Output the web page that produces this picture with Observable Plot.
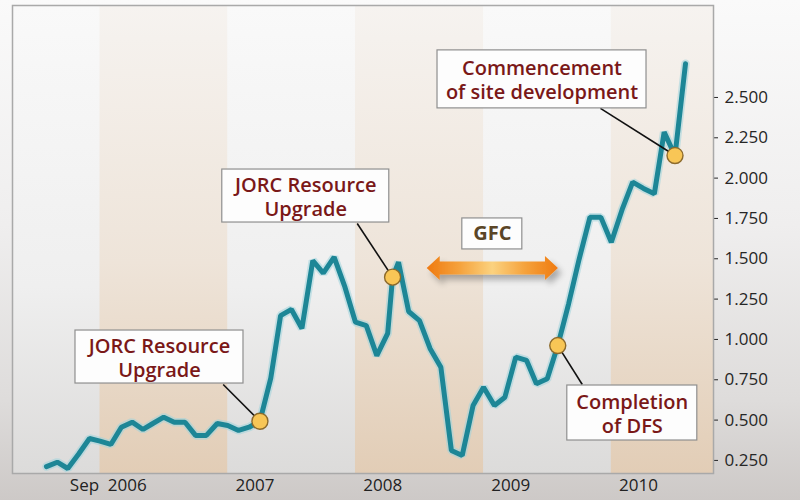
<!DOCTYPE html>
<html><head><meta charset="utf-8">
<script src="https://cdn.jsdelivr.net/npm/d3@7"></script>
<script src="https://cdn.jsdelivr.net/npm/@observablehq/plot@0.6"></script>
<style>
html,body{margin:0;padding:0;}
body{width:800px;height:500px;overflow:hidden;background:linear-gradient(to bottom,#fafafa 0%,#efeeee 45%,#dedcdb 80%,#cdc9c7 100%);font-family:"Open Sans",sans-serif;}
#chart svg{display:block;}
</style></head>
<body><div id="chart"></div>
<script>
// ---- data ----
const firstMonth = "2005-05-01";
const lastMonth = "2010-05-01";
const monthlyValues = [
  0.212, 0.239, 0.200, 0.290, 0.386, 0.370, 0.349, 0.456, 0.487, 0.442,
  0.479, 0.518, 0.487, 0.487, 0.405, 0.405, 0.479, 0.467, 0.436, 0.456,
  0.493, 0.760, 1.148, 1.186, 1.068, 1.489, 1.411, 1.510, 1.324, 1.107,
  1.086, 0.900, 1.037, 1.479, 1.173, 1.117, 0.944, 0.828, 0.312, 0.281,
  0.591, 0.704, 0.591, 0.642, 0.890, 0.870, 0.725, 0.756, 0.962, 1.221,
  1.497, 1.758, 1.758, 1.603, 1.806, 1.975, 1.936, 1.903, 2.285, 2.140,
  2.709
];
const yTicks = [0.25, 0.5, 0.75, 1.0, 1.25, 1.5, 1.75, 2.0, 2.25, 2.5];
const xTickDates = ["2005-09-01", "2006-01-01", "2007-01-01", "2008-01-01", "2009-01-01", "2010-01-01"];
const xTickLabels = ["Sep", "2006", "2007", "2008", "2009", "2010"];
const xDomain = ["2005-01-24", "2010-07-20"];
const yDomain = [0.169, 3.07];
const bandStarts = ["2005-10-01", "2007-10-01", "2009-10-01"];
const bandEnds = ["2006-10-01", "2008-10-01", "2010-07-20"];

// events (dots on the line)
const eventDates = ["2007-01-01", "2008-01-15", "2009-05-01", "2010-04-01"];
const eventValues = [0.493, 1.386, 0.962, 2.140];
const eventLabels = ["JORC Resource\nUpgrade", "JORC Resource\nUpgrade", "Completion\nof DFS", "Commencement\nof site development"];
// callout anchors (box centres) and leader-line ends, in data units
const calloutDates = ["2006-03-20", "2007-05-12", "2009-11-30", "2009-03-17"];
const calloutValues = [0.891, 1.889, 0.544, 2.612];
const leaderDates = ["2006-09-18", "2007-10-06", "2009-07-10", "2009-08-31"];
const leaderValues = [0.721, 1.719, 0.721, 2.432];
// GFC label and arrow
const gfcLabel = "GFC";
const gfcDate = "2008-10-26";
const gfcValue = 1.654;
const gfcArrowDates = ["2008-04-23", "2009-05-03"];
const gfcArrowValue = 1.440;

// ---- build tables ----
const P = d3.utcParse("%Y-%m-%d");
const months = d3.utcMonth.range(P(firstMonth), d3.utcMonth.offset(P(lastMonth), 1));
const series = months.map((d, i) => ({date: d, value: monthlyValues[i]}));
// the event on 2008-01-15 is an extra observation of the series
series.push({date: P(eventDates[1]), value: eventValues[1]});
series.sort((a, b) => a.date - b.date);

const bands = bandStarts.map((s, i) => ({start: P(s), end: P(bandEnds[i])}));
const events = eventDates.map((d, i) => ({date: P(d), value: eventValues[i], label: eventLabels[i]}));
const callouts = calloutDates.map((d, i) => ({date: P(d), value: calloutValues[i], label: eventLabels[i]}));
const leaders = leaderDates.map((d, i) => ({x1: P(d), y1: leaderValues[i], x2: events[i].date, y2: events[i].value}));
const xTicks = xTickDates.map((d, i) => ({date: P(d), label: xTickLabels[i]}));
const gfc = [{date: P(gfcDate), value: gfcValue, label: gfcLabel}];

const boxSizes = [[168, 53], [167, 53], [130, 55], [209, 58]];
const FONT = "'Open Sans', sans-serif";
const calloutRed = "#7a1818";

const boxMark = (row, w, h) => Plot.rect([row], {
  x1: "date", x2: "date", y1: "value", y2: "value",
  insetLeft: -w / 2, insetRight: -w / 2, insetTop: -h / 2, insetBottom: -h / 2,
  fill: "#fdfdfd", stroke: "#8f8f8f", strokeWidth: 1.2, ariaLabel: "callout-box"
});

const chart = Plot.plot({
  width: 800, height: 500,
  marginLeft: 12, marginRight: 87, marginTop: 5, marginBottom: 27,
  style: {background: "transparent", fontFamily: FONT, fontSize: "17px", color: "#262626", overflow: "visible"},
  x: {type: "utc", domain: xDomain.map(P), axis: null},
  y: {domain: yDomain, axis: "right", ticks: yTicks, tickFormat: ".3f", tickSize: 4, tickPadding: 7, label: null},
  marks: [
    Plot.frame({fill: "url(#plotBg)"}),
    Plot.rect(bands, {x1: "start", x2: "end", fill: "url(#tanBg)"}),
    Plot.frame({stroke: "#a9a9a9", strokeWidth: 1.5}),
    Plot.text(xTicks, {x: "date", text: "label", frameAnchor: "bottom", dy: 17, dx: -5, fontSize: 17, fill: "#222"}),
    Plot.line(series, {x: "date", y: "value", stroke: "#9fd3dc", strokeWidth: 8.5, strokeOpacity: 0.55, strokeLinejoin: "miter"}),
    Plot.line(series, {x: "date", y: "value", stroke: "#1d8696", strokeWidth: 5, strokeLinejoin: "miter"}),
    Plot.link(leaders, {x1: "x1", y1: "y1", x2: "x2", y2: "y2", stroke: "#111", strokeWidth: 1.6}),
    ...callouts.map((c, i) => boxMark(c, boxSizes[i][0], boxSizes[i][1])),
    boxMark(gfc[0], 60, 31),
    Plot.text(callouts, {x: "date", y: "value", text: "label", fontSize: 20, fontWeight: 600, fill: calloutRed, lineHeight: 1.22, lineAnchor: "middle", fontFamily: FONT}),
    Plot.text(gfc, {x: "date", y: "value", text: "label", fontSize: 20, fontWeight: 700, fill: "#5b4526", lineAnchor: "middle", fontFamily: FONT}),
    Plot.dot(events, {x: "date", y: "value", r: 8, fill: "#f8c656", stroke: "#8c6a2c", strokeWidth: 1.4})
  ]
});

const svg = d3.select(chart);
svg.insert("defs", ":first-child").html(`
  <linearGradient id="plotBg" x1="0" y1="0" x2="0" y2="1">
    <stop offset="0" stop-color="#f9f9f9"/><stop offset="0.6" stop-color="#efefef"/><stop offset="1" stop-color="#dcdbda"/>
  </linearGradient>
  <linearGradient id="tanBg" x1="0" y1="0" x2="0" y2="1">
    <stop offset="0" stop-color="#f6f3f0"/><stop offset="0.55" stop-color="#eee4d9"/><stop offset="1" stop-color="#e2cdb6"/>
  </linearGradient>
  <linearGradient id="arrowFill" x1="0" y1="0" x2="1" y2="0">
    <stop offset="0" stop-color="#ef7a10"/><stop offset="0.25" stop-color="#f5a23c"/>
    <stop offset="0.5" stop-color="#fbd27f"/><stop offset="0.75" stop-color="#f5a23c"/><stop offset="1" stop-color="#ef7a10"/>
  </linearGradient>
  <filter id="shadow" x="-30%" y="-40%" width="170%" height="200%">
    <feGaussianBlur in="SourceAlpha" stdDeviation="5"/>
    <feOffset dx="8" dy="8" result="o"/>
    <feComponentTransfer><feFuncA type="linear" slope="0.55"/></feComponentTransfer>
    <feMerge><feMergeNode/><feMergeNode in="SourceGraphic"/></feMerge>
  </filter>
  <filter id="shadowSoft" x="-20%" y="-60%" width="140%" height="260%">
    <feGaussianBlur in="SourceAlpha" stdDeviation="3"/>
    <feOffset dx="4" dy="5"/>
    <feComponentTransfer><feFuncA type="linear" slope="0.3"/></feComponentTransfer>
    <feMerge><feMergeNode/><feMergeNode in="SourceGraphic"/></feMerge>
  </filter>`);
svg.selectAll('g[aria-label="callout-box"]').attr("filter", "url(#shadow)");

// GFC double arrow, positioned through the plot's own scales
const sx = chart.scale("x"), sy = chart.scale("y");
const ax1 = sx.apply(P(gfcArrowDates[0])), ax2 = sx.apply(P(gfcArrowDates[1])), ay = sy.apply(gfcArrowValue);
const hl = 13, hh = 12, sh = 6.5;
const arrowPath = `M${ax1},${ay} L${ax1 + hl},${ay - hh} L${ax1 + hl},${ay - sh} L${ax2 - hl},${ay - sh} L${ax2 - hl},${ay - hh} L${ax2},${ay} L${ax2 - hl},${ay + hh} L${ax2 - hl},${ay + sh} L${ax1 + hl},${ay + sh} L${ax1 + hl},${ay + hh} Z`;
const firstBox = svg.select('g[aria-label="callout-box"]').node();
svg.insert("path", () => firstBox).attr("d", arrowPath).attr("fill", "url(#arrowFill)").attr("filter", "url(#shadowSoft)");

document.getElementById("chart").appendChild(chart);
</script>
</body></html>
